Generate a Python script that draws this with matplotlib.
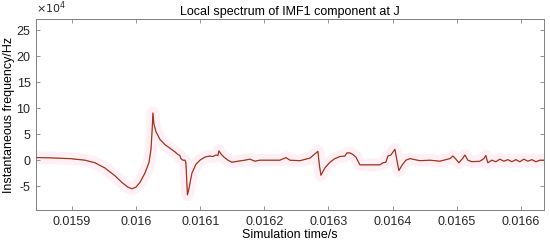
import numpy as np
import matplotlib
matplotlib.use("Agg")
import matplotlib.pyplot as plt

plt.rcParams['font.family'] = ['Liberation Sans', 'DejaVu Sans']

time_s = [
    0.015844, 0.0158657, 0.0158969, 0.0159203, 0.0159359, 0.0159514, 0.015967,
    0.0159780, 0.0159873, 0.0159935, 0.0159998, 0.0160060, 0.0160138, 0.0160200,
    0.0160232, 0.0160247, 0.0160263, 0.0160278, 0.0160310, 0.0160372, 0.0160450,
    0.0160528, 0.0160606, 0.0160653, 0.0160684, 0.0160699, 0.0160730, 0.0160762,
    0.0160777, 0.0160801, 0.0160824, 0.0160871, 0.0160933, 0.0160996, 0.0161074,
    0.0161151, 0.0161198, 0.0161245, 0.0161276, 0.0161292, 0.0161323, 0.0161370,
    0.0161432, 0.0161494, 0.0161588, 0.0161697, 0.0161775, 0.0161853, 0.0161931,
    0.0162087, 0.0162243, 0.0162336, 0.0162399, 0.0162555, 0.0162711, 0.0162835,
    0.0162859, 0.0162882, 0.0162944, 0.0163022, 0.0163100, 0.0163178, 0.0163256,
    0.0163287, 0.0163334, 0.0163381, 0.0163428, 0.0163490, 0.0163646, 0.0163802,
    0.0163849, 0.0163895, 0.0163927, 0.0163973, 0.0164036, 0.0164067, 0.0164098,
    0.0164145, 0.0164207, 0.0164270, 0.0164348, 0.0164426, 0.0164582, 0.0164737,
    0.0164893, 0.0164940, 0.0164987, 0.0165034, 0.0165096, 0.0165127, 0.0165174,
    0.0165236, 0.0165361, 0.0165423, 0.0165454, 0.0165485, 0.0165548, 0.0165610,
    0.0165672, 0.0165735, 0.0165797, 0.0165860, 0.0165922, 0.0165984, 0.0166047,
    0.0166109, 0.0166172, 0.0166234, 0.0166296, 0.0166358,
]

# instantaneous frequency, in units of 1e4 Hz
freq_e4 = [
    0.5, 0.45, 0.3, 0.0, -0.5, -1.5, -3.0,
    -4.3, -5.2, -5.5, -5.2, -4.3, -2.5, -0.5,
    2.0, 5.0, 9.1, 7.0, 5.5, 4.0, 3.0,
    2.3, 1.6, 1.1, 0.9, 0.3, 0.0, 0.0,
    -0.5, -6.7, -5.5, -2.5, -0.8, 0.0, 0.6,
    0.8, 0.7, 1.0, 0.9, 1.8, 1.2, 0.6,
    0.0, -0.4, -0.2, 0.0, 0.2, -0.2, 0.0,
    0.0, 0.0, 0.5, 0.0, -0.1, 0.4, 1.7,
    -1.0, -2.9, -1.5, -0.4, 0.3, 0.7, 0.8,
    1.4, 1.4, 1.1, 0.6, -0.9, -0.9, -0.9,
    -0.5, -0.4, 0.8, 1.0, 2.1, 0.0, -2.0,
    -1.0, 0.0, 0.3, 0.1, -0.1, 0.0, -0.2,
    0.3, 0.8, 0.2, -0.5, 0.4, 1.0, 0.0,
    -0.3, -0.2, 0.3, 0.9, -0.5, 0.0, -0.3,
    0.2, -0.2, 0.1, -0.3, 0.1, -0.3, 0.2,
    -0.2, 0.1, -0.3, 0.0, 0.0,
]

x_ticks = [0.0159, 0.0160, 0.0161, 0.0162, 0.0163, 0.0164, 0.0165, 0.0166]
x_tick_labels = ['0.0159', '0.016', '0.0161', '0.0162', '0.0163', '0.0164', '0.0165', '0.0166']
y_ticks_e4 = [-5, 0, 5, 10, 15, 20, 25]

t = np.array(time_s)
f = np.array(freq_e4) * 1e4

fig = plt.figure(figsize=(5.5, 2.46), dpi=100)
ax = fig.add_axes([0.0655, 0.1463, 0.9235, 0.7765])

ax.plot(t, f, color='#fff0f5', lw=9, solid_capstyle='butt', zorder=1)
ax.plot(t, f, color='#c0402a', lw=0.9, zorder=2)
ax.plot(t, f, color='#4a2010', lw=0.4, alpha=0.5, zorder=3)

ax.set_xlim(0.015844, 0.016636)
ax.set_ylim(-9.6e4, 27.2e4)
ax.set_xticks(x_ticks)
ax.set_xticklabels(x_tick_labels)
ax.set_yticks(np.array(y_ticks_e4) * 1e4)
ax.set_yticklabels([str(v) for v in y_ticks_e4])

ax.tick_params(direction='in', length=3, width=0.6, top=True, right=True,
               labelsize=9, colors='#262626', pad=4)
for s in ax.spines.values():
    s.set_color('#808080')
    s.set_linewidth(0.7)
ax.tick_params(axis='both', which='both', color='#808080')

ax.set_title('Local spectrum of IMF1 component at J', fontsize=9, pad=3, color='#000000')
ax.set_xlabel('Simulation time/s', fontsize=9, labelpad=1)
ax.set_ylabel('Instantaneous frequency/Hz', fontsize=9, labelpad=1)

fig.text(0.0655, 0.935, r'$\times10^{4}$', fontsize=8, color='#262626', ha='left', va='bottom')

fig.savefig('out.png', dpi=100)
